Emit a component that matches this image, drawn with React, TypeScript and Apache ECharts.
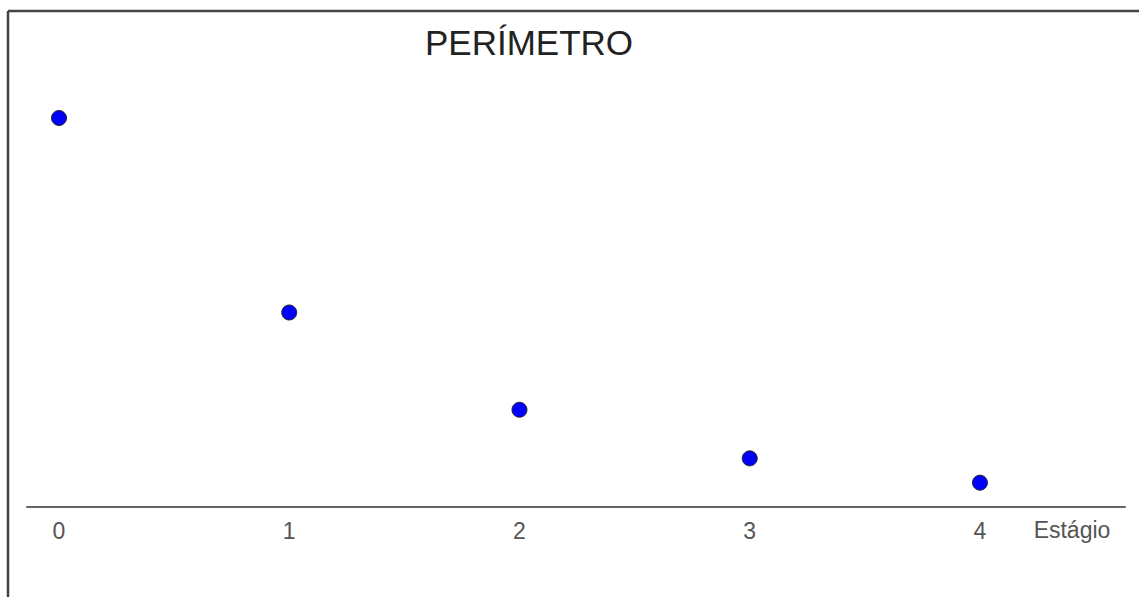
import React, { useEffect, useRef } from "react";
import * as echarts from "echarts";

const stages = [0, 1, 2, 3, 4];
const perimeter = [16, 8, 4, 2, 1];
const tickLabels = ["0", "1", "2", "3", "4"];
const titleText = "PERÍMETRO";
const axisName = "Estágio";

export default function App() {
  const ref = useRef<HTMLDivElement>(null);
  useEffect(() => {
    if (!ref.current) return;
    const chart = echarts.init(ref.current, null, { renderer: "svg" });
    const font = "'Liberation Sans', Arial, sans-serif";
    chart.setOption({
      animation: false,
      backgroundColor: "#fff",
      title: {
        text: titleText,
        left: 425,
        top: 25,
        padding: 0,
        textStyle: { fontSize: 35, fontWeight: "normal", color: "#222", fontFamily: font },
      },
      grid: { left: 27, right: 14, bottom: 90, top: 20.75, containLabel: false },
      xAxis: {
        type: "value",
        min: -0.139,
        max: 4.63,
        axisLine: { show: true, onZero: false, lineStyle: { color: "#666", width: 2 } },
        axisTick: { show: false },
        splitLine: { show: false },
        axisLabel: {
          customValues: stages,
          margin: 12,
          fontSize: 23,
          color: "#555",
          fontFamily: font,
          formatter: (v: number) => tickLabels[stages.indexOf(v)] ?? String(v),
        },
      },
      yAxis: {
        type: "value",
        min: 0,
        max: 20,
        show: false,
        splitLine: { show: false },
      },
      series: [
        {
          type: "scatter",
          data: stages.map((s, i) => [s, perimeter[i]]),
          symbol: "circle",
          symbolSize: 15,
          itemStyle: { color: "#0000ff", borderColor: "#222", borderWidth: 1, opacity: 1 },
        },
      ],
      graphic: [
        {
          type: "line",
          shape: { x1: 8, y1: 11, x2: 1139, y2: 11 },
          style: { stroke: "#444", lineWidth: 2.5 },
        },
        {
          type: "line",
          shape: { x1: 8, y1: 11, x2: 8, y2: 597 },
          style: { stroke: "#444", lineWidth: 2.5 },
        },
        {
          type: "text",
          x: 1072,
          y: 530,
          style: {
            text: axisName,
            fontSize: 23,
            fill: "#555",
            fontFamily: font,
            textAlign: "center",
            textVerticalAlign: "middle",
          },
        },
      ],
    });
    return () => chart.dispose();
  }, []);
  return (
    <div
      ref={ref}
      style={{ position: "fixed", left: 0, top: 0, width: 1139, height: 597, background: "#fff" }}
    />
  );
}
